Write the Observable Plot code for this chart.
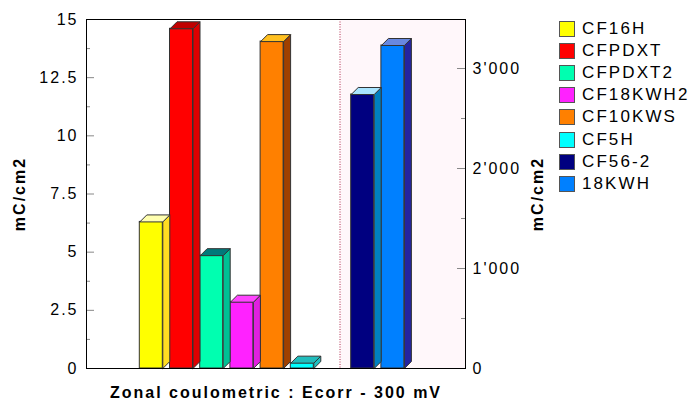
<!DOCTYPE html>
<html><head><meta charset="utf-8">
<script src="https://cdn.jsdelivr.net/npm/d3@7"></script>
<script src="https://cdn.jsdelivr.net/npm/@observablehq/plot@0.6"></script>
<style>
body{margin:0;background:#fff;font-family:"Liberation Sans",Arial,sans-serif;}
#wrap{position:relative;width:691px;height:401px;}
#legend{position:absolute;left:559px;top:18px;}
.row{display:flex;align-items:center;height:22.1px;font-size:17px;letter-spacing:2.1px;color:#000;}
.sw{width:14px;height:14px;border:1px solid #555;margin-right:7px;flex:none;}
</style></head><body><div id="wrap"><div id="legend"></div></div>
<script>
// Left group (left axis, mC/cm2)
const leftNames  = ["CF16H", "CFPDXT", "CFPDXT2", "CF18KWH2", "CF10KWS", "CF5H"];
const leftValues = [6.3, 14.6, 4.85, 2.85, 14.05, 0.23];
// Right group (right axis, mC/cm2)
const rightNames  = ["CF56-2", "18KWH"];
const rightValues = [2740, 3230];
// Colours: front, side, top
const frontColors = ["#ffff00", "#ff0000", "#00ffb0", "#ff22ff", "#ff8000", "#00ffff", "#000080", "#0080ff"];
const sideColors  = ["#ffdd22", "#dd0000", "#00c094", "#e020e0", "#a04000", "#20c0c0", "#0080c0", "#2424a0"];
const topColors   = ["#ffffb0", "#c00000", "#007a7a", "#ff44ff", "#ffc020", "#20bcbc", "#a8e4ff", "#6888e0"];
// Axis ticks
const leftTicks = [0, 2.5, 5, 7.5, 10, 12.5, 15];
const leftMinor = [1.25, 3.75, 6.25, 8.75, 11.25, 13.75];
const rightTicks = [0, 1000, 2000, 3000];
const rightMinor = [500, 1500, 2500];
const leftMax = 15, rightMax = 3490;
const title = "Zonal coulometric : Ecorr - 300 mV";
const yLabel = "mC/cm2";

const k = leftMax / rightMax;           // right units -> left units
const W = 691, H = 401, mL = 86, mR = 226, mT = 19, mB = 33;
const xDomain = [-1.765, 10.785];
const pxPerX = (W - mL - mR) / (xDomain[1] - xDomain[0]);
const pxPerY = (H - mT - mB) / leftMax;
const barW = 23 / pxPerX, offX = 7 / pxPerX, offY = 7 / pxPerY;
const divider = 6.63;

const bars = [
  ...leftNames.map((n, i) => ({name: n, x: i, v: leftValues[i]})),
  ...rightNames.map((n, i) => ({name: n, x: leftNames.length + 1 + i, v: rightValues[i] * k}))
].map((d, i) => ({...d, front: frontColors[i], side: sideColors[i], top: topColors[i]}));

const sidePts = bars.flatMap(b => {
  const x2 = b.x + barW;
  return [[x2, 0], [x2 + offX, offY], [x2 + offX, b.v + offY], [x2, b.v], [x2, 0]]
    .map(([x, y]) => ({id: b.name, x, y, c: b.side}));
});
const topPts = bars.flatMap(b => {
  const x1 = b.x, x2 = b.x + barW;
  return [[x1, b.v], [x1 + offX, b.v + offY], [x2 + offX, b.v + offY], [x2, b.v], [x1, b.v]]
    .map(([x, y]) => ({id: b.name, x, y, c: b.top}));
});
const fmtR = d => d === 0 ? "0" : d3.format(",")(d).replace(/,/g, "'");

const chart = Plot.plot({
  width: W, height: H,
  marginLeft: mL, marginRight: mR, marginTop: mT, marginBottom: mB,
  x: {domain: xDomain, axis: null},
  y: {domain: [0, leftMax], axis: null},
  color: {type: "identity"},
  style: {fontFamily: "'Liberation Sans', Arial, sans-serif", background: "#fff", overflow: "visible", letterSpacing: "2px"},
  marks: [
    Plot.rect([0], {x1: divider, x2: xDomain[1], y1: 0, y2: leftMax, fill: "#fff7fa"}),
    Plot.ruleX([divider], {stroke: "#b03050", strokeDasharray: "1,1.5", strokeWidth: 1}),
    Plot.ruleY(leftTicks, {y: d => d, stroke: "#888", insetRight: (W - mL - mR) - 8}),
    Plot.ruleY(leftMinor, {y: d => d, stroke: "#888", insetRight: (W - mL - mR) - 4}),
    Plot.ruleY(rightTicks, {y: d => d * k, stroke: "#888", insetLeft: (W - mL - mR) - 8}),
    Plot.ruleY(rightMinor, {y: d => d * k, stroke: "#888", insetLeft: (W - mL - mR) - 4}),
    Plot.rect(bars, {x1: "x", x2: d => d.x + barW, y1: 0, y2: "v", fill: "front", stroke: "#333", strokeWidth: 1}),
    Plot.line(sidePts, {x: "x", y: "y", z: "id", fill: "c", stroke: "#333", strokeWidth: 1, curve: "linear"}),
    Plot.line(topPts, {x: "x", y: "y", z: "id", fill: "c", stroke: "#333", strokeWidth: 1, curve: "linear"}),
    Plot.frame({stroke: "#000"}),
    Plot.text(leftTicks, {y: d => d, text: d => String(d), frameAnchor: "left", textAnchor: "end", dx: -8, fontSize: 16, fill: "#000"}),
    Plot.text(rightTicks, {y: d => d * k, text: fmtR, frameAnchor: "right", textAnchor: "start", dx: 7, fontSize: 16, fill: "#000"}),
    Plot.text([yLabel], {text: d => d, frameAnchor: "left", textAnchor: "middle", lineAnchor: "middle", rotate: -90, dx: -67, fontSize: 16, fontWeight: "bold", fill: "#000"}),
    Plot.text([yLabel], {text: d => d, frameAnchor: "right", textAnchor: "middle", lineAnchor: "middle", rotate: -90, dx: 72, fontSize: 16, fontWeight: "bold", fill: "#000"}),
    Plot.text([title], {text: d => d, frameAnchor: "bottom", textAnchor: "middle", lineAnchor: "middle", dy: 24, fontSize: 16, fontWeight: "bold", fill: "#000"})
  ]
});
document.getElementById("wrap").prepend(chart);

const legend = d3.select("#legend");
bars.forEach(b => {
  const r = legend.append("div").attr("class", "row");
  r.append("div").attr("class", "sw").style("background", b.front);
  r.append("span").text(b.name);
});
</script>
</body></html>
